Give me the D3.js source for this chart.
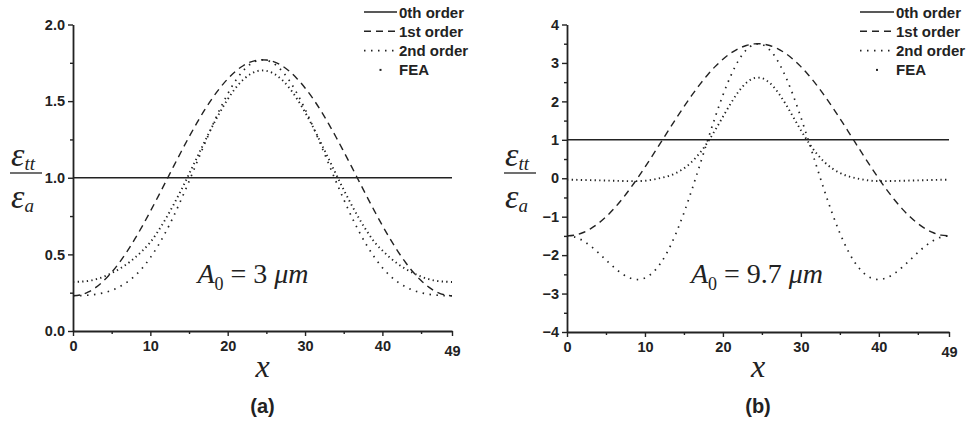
<!DOCTYPE html>
<html lang="en">
<head>
<meta charset="UTF-8">
<title>Strain ratio along x</title>
<script src="https://d3js.org/d3.v7.min.js"></script>
<style>
    body { margin: 0; background: #fff; }
    svg { display: block; background: #fff; }
    .sans { font-family: 'Liberation Sans', Arial, sans-serif; font-weight: bold; fill: #222; }
    .serif { font-family: 'Liberation Serif', 'DejaVu Serif', 'Times New Roman', serif; fill: #222; }
    .curve { fill: none; stroke: #222; }
</style>
</head>
<body>
<svg width="969" height="431"></svg>
<script>
// sample positions along the beam
const xs = [0,1,2,3,4,5,6,7,8,9,10,11,12,13,14,15,16,17,18,19,20,21,22,23,24,
            25,26,27,28,29,30,31,32,33,34,35,36,37,38,39,40,41,42,43,44,45,46,47,48,49];

// panel (a), A0 = 3 um
const zerothA = [1, 1];
const firstA = [0.230,0.236,0.255,0.286,0.329,0.383,0.447,0.520,0.601,0.688,0.781,0.877,0.975,1.074,1.171,1.266,1.356,1.441,1.518,1.586,1.645,1.694,1.731,1.756,1.768,
                1.768,1.756,1.731,1.694,1.645,1.586,1.518,1.441,1.356,1.266,1.171,1.074,0.975,0.877,0.781,0.688,0.601,0.520,0.447,0.383,0.329,0.286,0.255,0.236,0.230];
const secondA = [0.230,0.231,0.234,0.240,0.250,0.265,0.288,0.319,0.360,0.413,0.479,0.557,0.647,0.748,0.859,0.976,1.098,1.219,1.337,1.448,1.547,1.632,1.698,1.744,1.767,
                 1.767,1.744,1.698,1.632,1.547,1.448,1.337,1.219,1.098,0.976,0.859,0.748,0.647,0.557,0.479,0.413,0.360,0.319,0.288,0.265,0.250,0.240,0.234,0.231,0.230];
const feaA = [0.320,0.322,0.327,0.338,0.355,0.378,0.405,0.438,0.478,0.525,0.579,0.651,0.733,0.824,0.921,1.024,1.129,1.233,1.334,1.428,1.512,1.584,1.640,1.678,1.698,
              1.698,1.678,1.640,1.584,1.512,1.428,1.334,1.233,1.129,1.024,0.921,0.824,0.733,0.651,0.579,0.525,0.478,0.438,0.405,0.378,0.355,0.338,0.327,0.322,0.320];

// panel (b), A0 = 9.7 um
const zerothB = [1, 1];
const firstB = [-1.500,-1.480,-1.418,-1.317,-1.178,-1.004,-0.796,-0.559,-0.296,-0.012,0.289,0.601,0.920,1.240,1.556,1.863,2.156,2.430,2.681,2.904,3.095,3.253,3.373,3.454,3.495,
                3.495,3.454,3.373,3.253,3.095,2.904,2.681,2.430,2.156,1.863,1.556,1.240,0.920,0.601,0.289,-0.012,-0.296,-0.559,-0.796,-1.004,-1.178,-1.317,-1.418,-1.480,-1.500];
const secondB = [-1.500,-1.531,-1.620,-1.759,-1.934,-2.126,-2.314,-2.476,-2.590,-2.635,-2.595,-2.456,-2.214,-1.868,-1.425,-0.900,-0.310,0.320,0.962,1.585,2.162,2.662,3.062,3.340,3.482,
                 3.482,3.340,3.062,2.662,2.162,1.585,0.962,0.320,-0.310,-0.900,-1.425,-1.868,-2.214,-2.456,-2.595,-2.635,-2.590,-2.476,-2.314,-2.126,-1.934,-1.759,-1.620,-1.531,-1.500];
const feaB = [-0.040,-0.040,-0.045,-0.050,-0.055,-0.060,-0.065,-0.070,-0.075,-0.075,-0.065,-0.035,0.005,0.057,0.137,0.257,0.425,0.648,0.926,1.250,1.599,1.945,2.251,2.481,2.604,
              2.604,2.481,2.251,1.945,1.599,1.250,0.926,0.648,0.425,0.257,0.137,0.057,0.005,-0.035,-0.065,-0.075,-0.075,-0.070,-0.065,-0.060,-0.055,-0.050,-0.045,-0.040,-0.040];

// ticks
const xMajor = [0, 10, 20, 30, 40, 49];
const xMinor = [5, 15, 25, 35, 45];
const yMajorA = [0, 0.5, 1.0, 1.5, 2.0];
const yMinorA = [0.25, 0.75, 1.25, 1.75];
const yMajorB = [-4, -3, -2, -1, 0, 1, 2, 3, 4];
const yMinorB = [-3.5, -2.5, -1.5, -0.5, 0.5, 1.5, 2.5, 3.5];

const legendNames = ["0th order", "1st order", "2nd order", "FEA"];

const styles = {
    zeroth: { width: 1.6, dash: null },
    first: { width: 1.4, dash: "7,5" },
    second: { width: 1.7, dash: "1.5,5.5" },
    fea: { width: 1.9, dash: "1.3,3.3" }
};

const serifFont = "'Liberation Serif', 'DejaVu Serif', 'Times New Roman', serif";

const svg = d3.select("svg");

function drawPanel(p) {
    const x = d3.scaleLinear().domain([0, 49]).range([p.left, p.right]);
    const y = d3.scaleLinear().domain(p.yDomain).range([p.bottom, p.top]);
    const g = svg.append("g");

    // axes
    const yAxis = g.append("g")
        .attr("transform", `translate(${p.left},0)`)
        .call(d3.axisLeft(y).tickValues(p.yMajor).tickSize(5).tickSizeOuter(0)
            .tickPadding(3).tickFormat(d3.format(p.fmt)));
    g.append("g")
        .attr("transform", `translate(${p.left},0)`)
        .call(d3.axisLeft(y).tickValues(p.yMinor).tickSize(3).tickFormat(""))
        .select(".domain").remove();

    const xAxis = g.append("g")
        .attr("transform", `translate(0,${p.bottom})`)
        .call(d3.axisBottom(x).tickValues(xMajor).tickSize(5).tickSizeOuter(0)
            .tickPadding(5).tickFormat(d3.format("d")));
    g.append("g")
        .attr("transform", `translate(0,${p.bottom})`)
        .call(d3.axisBottom(x).tickValues(xMinor).tickSize(3).tickFormat(""))
        .select(".domain").remove();

    g.selectAll(".domain").attr("stroke", "#222").attr("stroke-width", 1.8);
    g.selectAll(".tick line").attr("stroke", "#222").attr("stroke-width", 1.4);
    [yAxis, xAxis].forEach(a => a.selectAll("text")
        .attr("class", "sans")
        .attr("font-size", 14.5)
        .attr("font-family", null));
    xAxis.selectAll(".tick").filter(d => d === 49).select("text").attr("dy", "1.0em");

    // curves
    const line = d3.line()
        .x((d, i) => x(xs[i]))
        .y(d => y(d))
        .curve(d3.curveCatmullRom);

    const zLine = d3.line().x((d, i) => x(i === 0 ? 0 : 49)).y(d => y(d));
    g.append("path").attr("class", "curve")
        .attr("d", zLine(p.zeroth))
        .attr("stroke-width", styles.zeroth.width);

    [["first", p.first], ["second", p.second], ["fea", p.fea]].forEach(([k, vals]) => {
        g.append("path").attr("class", "curve")
            .attr("d", line(vals))
            .attr("stroke-width", styles[k].width)
            .attr("stroke-dasharray", styles[k].dash);
    });

    // legend
    const lg = g.append("g").attr("class", "legend");
    const keys = ["zeroth", "first", "second", "fea"];
    keys.forEach((k, i) => {
        const ly = p.legendY + i * 19.3;
        if (k === "fea") {
            lg.append("rect")
                .attr("x", (p.legX1 + p.legX2) / 2 - 1)
                .attr("y", ly - 1)
                .attr("width", 2).attr("height", 2)
                .attr("fill", "#222");
        } else {
            lg.append("line")
                .attr("x1", p.legX1).attr("x2", p.legX2)
                .attr("y1", ly).attr("y2", ly)
                .attr("stroke", "#222")
                .attr("stroke-width", styles[k].width)
                .attr("stroke-dasharray", styles[k].dash);
        }
        lg.append("text")
            .attr("class", "sans")
            .attr("x", p.legX2 + 2)
            .attr("y", ly + 5.5)
            .attr("font-size", 15)
            .text(legendNames[i]);
    });

    // y label as a fraction
    const fx = p.fracX;
    svg.append("line")
        .attr("x1", fx - 16).attr("x2", fx + 16)
        .attr("y1", 173).attr("y2", 173)
        .attr("stroke", "#222").attr("stroke-width", 1.3);
    const num = svg.append("text").attr("class", "serif")
        .attr("font-family", serifFont)
        .attr("x", fx - 15).attr("y", 166).attr("font-size", 34).attr("font-style", "italic");
    num.append("tspan").text("\u03b5");
    num.append("tspan").attr("font-size", 19).attr("dy", 4).text("tt");
    const den = svg.append("text").attr("class", "serif")
        .attr("font-family", serifFont)
        .attr("x", fx - 15).attr("y", 208).attr("font-size", 34).attr("font-style", "italic");
    den.append("tspan").text("\u03b5");
    den.append("tspan").attr("font-size", 19).attr("dy", 4).text("a");

    // x label
    svg.append("text").attr("class", "serif")
        .attr("font-family", serifFont)
        .attr("x", (p.left + p.right) / 2).attr("y", 377)
        .attr("text-anchor", "middle")
        .attr("font-size", 32).attr("font-style", "italic")
        .text("x");

    // panel tag
    svg.append("text").attr("class", "sans")
        .attr("x", (p.left + p.right) / 2).attr("y", 413)
        .attr("text-anchor", "middle")
        .attr("font-size", 20)
        .text(p.tag);

    // amplitude note
    const note = svg.append("text").attr("class", "serif")
        .attr("font-family", serifFont)
        .attr("x", p.noteX).attr("y", 283)
        .attr("text-anchor", "middle")
        .attr("font-size", 28);
    note.append("tspan").attr("font-style", "italic").text("A");
    note.append("tspan").attr("font-size", 18).attr("dy", 7).text("0");
    note.append("tspan").attr("dy", -7).text(" = " + p.amp + " ");
    note.append("tspan").attr("font-style", "italic").text("\u03bcm");
}

drawPanel({
    left: 73, right: 452, top: 24.5, bottom: 331,
    yDomain: [0, 2], yMajor: yMajorA, yMinor: yMinorA, fmt: ".1f",
    zeroth: zerothA, first: firstA, second: secondA, fea: feaA,
    legX1: 364, legX2: 397, legendY: 12,
    fracX: 26, noteX: 253, amp: "3", tag: "(a)"
});

drawPanel({
    left: 567, right: 949, top: 24.5, bottom: 332,
    yDomain: [-4, 4], yMajor: yMajorB, yMinor: yMinorB, fmt: "d",
    zeroth: zerothB, first: firstB, second: secondB, fea: feaB,
    legX1: 860, legX2: 894, legendY: 12,
    fracX: 520, noteX: 757, amp: "9.7", tag: "(b)"
});
</script>
</body>
</html>
